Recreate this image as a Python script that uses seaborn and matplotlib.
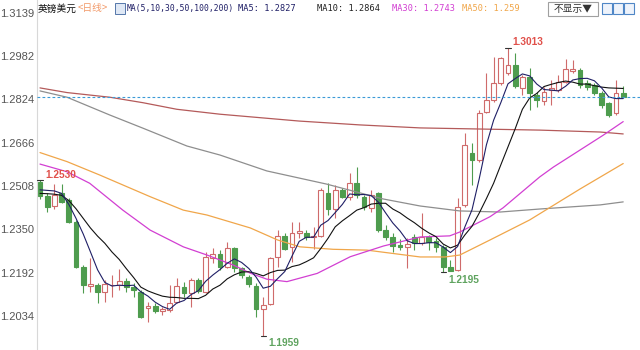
import matplotlib
matplotlib.use("Agg")
import matplotlib.pyplot as plt
import seaborn as sns
from matplotlib.patches import Rectangle

# ---------------- data ----------------
opens = [1.2524, 1.2471, 1.2435, 1.2481, 1.2457, 1.2378, 1.2213, 1.2144, 1.2147, 1.2122,
         1.2145, 1.2147, 1.2162, 1.2140, 1.2122, 1.2062, 1.2070, 1.2053, 1.2055, 1.2085,
         1.2140, 1.2119, 1.2165, 1.2122, 1.2244, 1.2260, 1.2213, 1.2281, 1.2208, 1.2177,
         1.2143, 1.2058, 1.2077, 1.2248, 1.2326, 1.2286, 1.2338, 1.2338, 1.2322, 1.2326,
         1.2481, 1.2423, 1.2493, 1.2469, 1.2518, 1.2469, 1.2427, 1.2481, 1.2347, 1.2323,
         1.2293, 1.2284, 1.2322, 1.2299, 1.2323, 1.2308, 1.2286, 1.2211, 1.2201, 1.2439,
         1.2630, 1.2603, 1.2779, 1.2822, 1.2883, 1.2919, 1.2950, 1.2865, 1.2906, 1.2840,
         1.2818, 1.2858, 1.2858, 1.2889, 1.2929, 1.2931, 1.2883, 1.2877, 1.2846, 1.2810,
         1.2773, 1.2846]
highs = [1.2530, 1.2482, 1.2515, 1.2515, 1.2464, 1.2384, 1.2220, 1.2245, 1.2154, 1.2165,
         1.2183, 1.2205, 1.2172, 1.2154, 1.2128, 1.2086, 1.2081, 1.2067, 1.2147, 1.2172,
         1.2159, 1.2172, 1.2172, 1.2268, 1.2281, 1.2274, 1.2305, 1.2286, 1.2213, 1.2183,
         1.2153, 1.2104, 1.2250, 1.2347, 1.2335, 1.2378, 1.2378, 1.2347, 1.2358, 1.2500,
         1.2518, 1.2512, 1.2500, 1.2554, 1.2578, 1.2475, 1.2493, 1.2487, 1.2366, 1.2335,
         1.2313, 1.2317, 1.2333, 1.2409, 1.2329, 1.2318, 1.2293, 1.2238, 1.2464, 1.2700,
         1.2664, 1.2785, 1.2919, 1.2980, 1.2980, 1.3013, 1.2992, 1.2913, 1.2938, 1.2852,
         1.2870, 1.2895, 1.2913, 1.2971, 1.2968, 1.2939, 1.2895, 1.2884, 1.2855, 1.2816,
         1.2895, 1.2873]
lows = [1.2461, 1.2414, 1.2424, 1.2446, 1.2373, 1.2209, 1.2117, 1.2122, 1.2081, 1.2086,
        1.2104, 1.2128, 1.2122, 1.2104, 1.2026, 1.2013, 1.2044, 1.2037, 1.2049, 1.2081,
        1.2104, 1.2067, 1.2117, 1.2116, 1.2226, 1.2201, 1.2208, 1.2195, 1.2171, 1.2140,
        1.2031, 1.1959, 1.2072, 1.2213, 1.2274, 1.2232, 1.2317, 1.2311, 1.2278, 1.2323,
        1.2402, 1.2390, 1.2463, 1.2457, 1.2463, 1.2420, 1.2414, 1.2341, 1.2311, 1.2268,
        1.2274, 1.2208, 1.2274, 1.2293, 1.2274, 1.2267, 1.2195, 1.2197, 1.2199, 1.2432,
        1.2512, 1.2597, 1.2773, 1.2816, 1.2877, 1.2913, 1.2865, 1.2840, 1.2785, 1.2797,
        1.2804, 1.2804, 1.2852, 1.2883, 1.2919, 1.2866, 1.2858, 1.2840, 1.2793, 1.2761,
        1.2767, 1.2828]
closes = [1.2471, 1.2432, 1.2475, 1.2451, 1.2378, 1.2213, 1.2147, 1.2149, 1.2122, 1.2150,
          1.2148, 1.2162, 1.2140, 1.2128, 1.2031, 1.2070, 1.2053, 1.2058, 1.2080, 1.2143,
          1.2116, 1.2165, 1.2125, 1.2250, 1.2260, 1.2213, 1.2281, 1.2208, 1.2183, 1.2150,
          1.2058, 1.2074, 1.2244, 1.2326, 1.2277, 1.2338, 1.2345, 1.2321, 1.2326, 1.2493,
          1.2423, 1.2493, 1.2469, 1.2518, 1.2475, 1.2430, 1.2475, 1.2347, 1.2323, 1.2289,
          1.2284, 1.2295, 1.2300, 1.2321, 1.2305, 1.2286, 1.2213, 1.2199, 1.2432, 1.2658,
          1.2603, 1.2776, 1.2822, 1.2883, 1.2974, 1.2950, 1.2873, 1.2907, 1.2846, 1.2822,
          1.2852, 1.2865, 1.2889, 1.2934, 1.2934, 1.2877, 1.2870, 1.2846, 1.2804, 1.2767,
          1.2849, 1.2834]

ma5 = [1.2494, 1.2492, 1.2490, 1.2481, 1.2441, 1.2390, 1.2333, 1.2268, 1.2202, 1.2156,
       1.2143, 1.2146, 1.2144, 1.2146, 1.2122, 1.2106, 1.2084, 1.2068, 1.2058, 1.2081,
       1.2090, 1.2112, 1.2126, 1.2160, 1.2183, 1.2203, 1.2226, 1.2242, 1.2229, 1.2207,
       1.2176, 1.2135, 1.2142, 1.2170, 1.2196, 1.2252, 1.2306, 1.2321, 1.2321, 1.2365,
       1.2382, 1.2411, 1.2441, 1.2479, 1.2476, 1.2477, 1.2473, 1.2449, 1.2410, 1.2373,
       1.2344, 1.2308, 1.2298, 1.2298, 1.2301, 1.2301, 1.2285, 1.2265, 1.2287, 1.2358,
       1.2421, 1.2534, 1.2658, 1.2748, 1.2812, 1.2881, 1.2900, 1.2917, 1.2910, 1.2880,
       1.2860, 1.2858, 1.2855, 1.2872, 1.2895, 1.2900, 1.2901, 1.2892, 1.2866, 1.2833,
       1.2827, 1.2827]
ma10 = [1.2481, 1.2480, 1.2478, 1.2474, 1.2455, 1.2425, 1.2390, 1.2355, 1.2325, 1.2299,
        1.2267, 1.2240, 1.2206, 1.2174, 1.2139, 1.2125, 1.2115, 1.2106, 1.2102, 1.2101,
        1.2098, 1.2098, 1.2097, 1.2109, 1.2132, 1.2146, 1.2169, 1.2184, 1.2194, 1.2195,
        1.2189, 1.2180, 1.2192, 1.2200, 1.2201, 1.2214, 1.2220, 1.2232, 1.2246, 1.2280,
        1.2317, 1.2359, 1.2381, 1.2400, 1.2420, 1.2429, 1.2442, 1.2445, 1.2445, 1.2424,
        1.2410, 1.2391, 1.2374, 1.2354, 1.2337, 1.2323, 1.2296, 1.2282, 1.2292, 1.2329,
        1.2361, 1.2409, 1.2462, 1.2518, 1.2585, 1.2651, 1.2717, 1.2788, 1.2829, 1.2846,
        1.2871, 1.2879, 1.2886, 1.2891, 1.2887, 1.2880, 1.2880, 1.2874, 1.2869, 1.2866,
        1.2865, 1.2864]

ma30_idx = [0, 3.75, 6.9, 11.5, 15.3, 19.9, 23.2, 26.8, 29.2, 31.5, 34.3, 38.5, 43.1,
            47.7, 52.8, 56.9, 58.3, 62.5, 64.3, 69.4, 71.3, 78.2, 81]
ma30_val = [1.2588, 1.2560, 1.2518, 1.2420, 1.2347, 1.2286, 1.2256, 1.2220, 1.2190, 1.2168,
            1.2159, 1.2189, 1.2250, 1.2289, 1.2322, 1.2326, 1.2340, 1.2396, 1.2428, 1.2541,
            1.2577, 1.2693, 1.2743]
ma50_idx = [0, 3.75, 8.3, 15.3, 19.9, 23.2, 29.2, 33, 36.1, 40.7, 45.4, 52.8, 56.25, 58.3,
            62.5, 68, 75, 81]
ma50_val = [1.2630, 1.2597, 1.2548, 1.2469, 1.2420, 1.2402, 1.2355, 1.2311, 1.2286, 1.2277,
            1.2274, 1.2249, 1.2249, 1.2256, 1.2311, 1.2384, 1.2497, 1.2590]
ma100_idx = [0, 3.75, 9.7, 14.3, 20.4, 25, 31.5, 39.8, 47.6, 52.8, 58.3, 63.9, 69.4, 77.8, 81]
ma100_val = [1.2855, 1.2832, 1.2767, 1.2719, 1.2654, 1.2621, 1.2563, 1.2515, 1.2461, 1.2435,
             1.2417, 1.2413, 1.2424, 1.2439, 1.2450]
ma200_idx = [0, 3.75, 9.7, 14.3, 19, 25, 36, 44.4, 52.8, 61, 69.4, 77.8, 81]
ma200_val = [1.2866, 1.2849, 1.2832, 1.2812, 1.2788, 1.2770, 1.2745, 1.2731, 1.2720, 1.2716,
             1.2712, 1.2705, 1.2698]

ytick_vals = [1.2034, 1.2192, 1.2350, 1.2508, 1.2666, 1.2824, 1.2982, 1.3139]
ytick_labels = ["1.2034", "1.2192", "1.2350", "1.2508", "1.2666", "1.2824", "1.2982", "1.3139"]
last_price = 1.2834

ext_idx = [0, 65, 31, 56]
ext_val = [1.2530, 1.3013, 1.1959, 1.2195]
ext_text = ["1.2530", "1.3013", "1.1959", "1.2195"]

title_name = "英镑美元"
title_period = "<日线>"
ma_params = "MA(5,10,30,50,100,200)"
ma_labels = ["MA5: 1.2827", "MA10: 1.2864", "MA30: 1.2743", "MA50: 1.259"]
button_text = "不显示▼"

# ---------------- style ----------------
sns.set_style("white")
plt.rcParams['font.family'] = ['Liberation Sans', 'Noto Sans CJK SC', 'DejaVu Sans']

UP = "#cf6b6b"
DN = "#4e9c4e"
C_MA5 = "#1f1f66"
C_MA10 = "#111111"
C_MA30 = "#d23fd2"
C_MA50 = "#f0a64a"
C_MA100 = "#8e8e8e"
C_MA200 = "#b45a5a"

W, H = 640, 350
fig = plt.figure(figsize=(6.4, 3.5), dpi=100)
fig.patch.set_facecolor("white")
ax = fig.add_axes([37 / W, 0, 1 - 37 / W, 1])

# candle index <-> pixel : x_px = 40 + 7.2 * i
ax.set_xlim((37 - 40) / 7.2, (640 - 40) / 7.2)
ax.set_ylim(1.2508 - 164 / 2740, 1.2508 + 186 / 2740)

xs = list(range(len(opens)))
for i in xs:
    o, h, l, c = opens[i], highs[i], lows[i], closes[i]
    up = c >= o
    col = UP if up else DN
    ax.vlines(i, l, h, color=col, lw=0.8, zorder=2)
    bot = min(o, c)
    ht = max(abs(c - o), 0.00005)
    ax.bar(i, ht, bottom=bot, width=0.68,
           facecolor="white" if up else DN, edgecolor=col, linewidth=0.8, zorder=2.5)

line_kw = dict(ax=ax, estimator=None, sort=False, legend=False)
sns.lineplot(x=ma200_idx, y=ma200_val, color=C_MA200, lw=0.9, **line_kw)
sns.lineplot(x=ma100_idx, y=ma100_val, color=C_MA100, lw=0.9, **line_kw)
sns.lineplot(x=ma50_idx, y=ma50_val, color=C_MA50, lw=0.9, **line_kw)
sns.lineplot(x=ma30_idx, y=ma30_val, color=C_MA30, lw=0.9, **line_kw)
sns.lineplot(x=xs, y=ma10, color=C_MA10, lw=0.8, **line_kw)
sns.lineplot(x=xs, y=ma5, color=C_MA5, lw=0.8, **line_kw)
for ln in ax.lines:
    ln.set_zorder(3)

ax.axhline(last_price, color="#3b9ad6", lw=0.8, ls=(0, (2.5, 2)), zorder=4)

# extreme markers + labels
offsets = [(5, 4.5), (4, 5.5), (5, -6.5), (5, -8.5)]
colors = ["#e0504a", "#e0504a", "#5fa35f", "#5fa35f"]
for i, v, t, off, cc in zip(ext_idx, ext_val, ext_text, offsets, colors):
    ax.plot([i - 0.35, i + 0.35], [v, v], color="#333333", lw=0.8, zorder=5)
    ax.annotate(t, (i, v), xytext=(off[0] * 0.72, off[1] * 0.72), textcoords="offset points",
                ha="left", va="center", fontsize=7.3, fontweight="bold", color=cc,
                family=["Liberation Sans", "DejaVu Sans"], zorder=6)

ax.set_yticks(ytick_vals)
ax.set_yticklabels(ytick_labels)
ax.set_xticks([])
ax.tick_params(axis="y", length=0, pad=2, labelsize=8, labelcolor="#555555")
for s in ["top", "right", "bottom"]:
    ax.spines[s].set_visible(False)
ax.spines["left"].set_color("#d8d8d8")
ax.spines["left"].set_linewidth(0.8)
ax.set_xlabel("")
ax.set_ylabel("")


def ftxt(x, y, s, **kw):
    fig.text(x / W, 1 - y / H, s, va="center", ha="left", **kw)


cjk = ["Noto Sans CJK SC", "DejaVu Sans"]
mono = ["DejaVu Sans Mono"]
ftxt(38, 8.5, title_name, fontsize=7, color="#111111", family=cjk)
ftxt(78, 8.5, title_period, fontsize=7, color="#f29a6a", family=cjk)
fig.patches.append(Rectangle((115 / W, 1 - 14 / H), 10 / W, 11 / H, transform=fig.transFigure,
                             facecolor="#dfe8f5", edgecolor="#5577aa", lw=0.7))
ftxt(127, 8.5, ma_params, fontsize=5.8, color=C_MA5, family=mono)
ma_x = [238, 317, 392, 462]
ma_c = [C_MA5, "#222222", C_MA30, C_MA50]
for xx, s, cc in zip(ma_x, ma_labels, ma_c):
    ftxt(xx, 8.5, s, fontsize=6.2, color=cc, family=mono)

fig.patches.append(Rectangle((548 / W, 1 - 16 / H), 50 / W, 14 / H, transform=fig.transFigure,
                             facecolor="white", edgecolor="#a0a0a0", lw=0.8))
fig.text(573 / W, 1 - 9 / H, button_text, ha="center", va="center", fontsize=7,
         color="#333333", family=cjk)
for bx in [602, 613, 624]:
    fig.patches.append(Rectangle((bx / W, 1 - 14 / H), 10 / W, 11 / H, transform=fig.transFigure,
                                 facecolor="#eef3fb", edgecolor="#4f86c6", lw=0.8))

fig.savefig("out.png", dpi=100, facecolor="white")
